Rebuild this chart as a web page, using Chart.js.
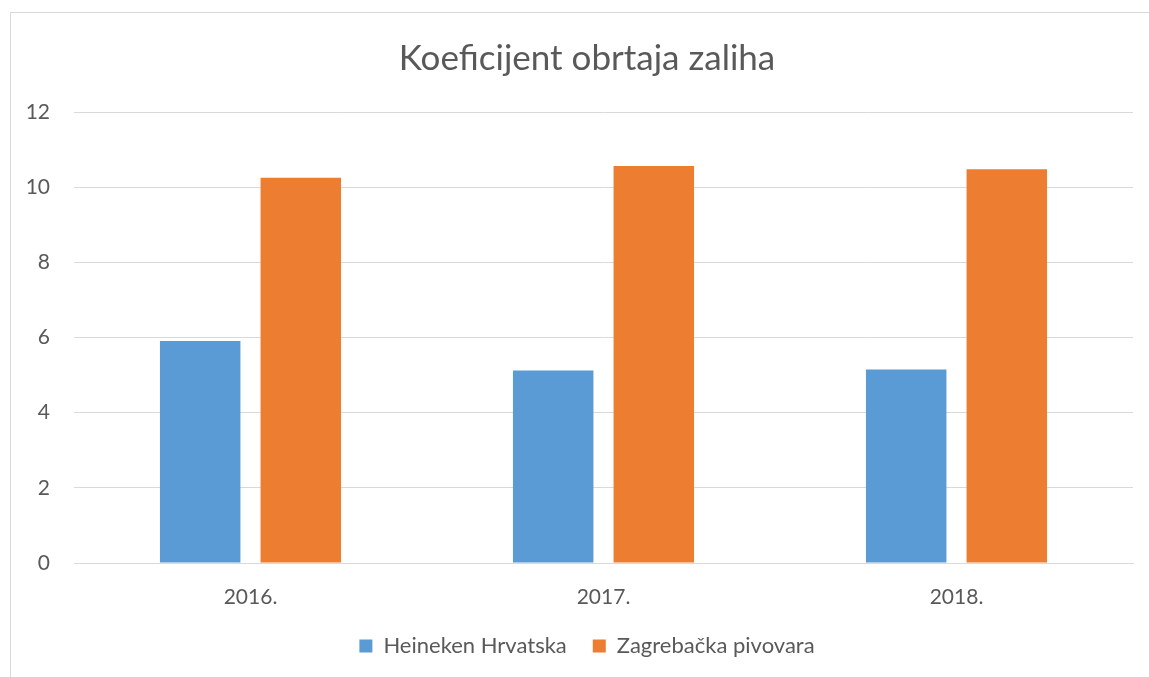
<!DOCTYPE html>
<html>
<head>
<meta charset="utf-8">
<script src="https://cdn.jsdelivr.net/npm/chart.js@4"></script>
<style>
  html, body { margin: 0; padding: 0; background: #fff; }
  #wrap { position: relative; width: 1149px; height: 677px; overflow: hidden; }
  #frame { position: absolute; left: 10px; top: 12px; width: 1200px; height: 700px;
           border-left: 1px solid #d9d9d9; border-top: 1px solid #d9d9d9; box-sizing: border-box; }
  canvas { position: absolute; left: 0; top: 0; }
</style>
</head>
<body>
<div id="wrap">
  <div id="frame"></div>
  <canvas id="c" width="1149" height="677"></canvas>
</div>
<script>
const categories = ["2016.", "2017.", "2018."];
const heineken = [5.91, 5.12, 5.15];
const zagrebacka = [10.25, 10.56, 10.48];
const seriesNames = ["Heineken Hrvatska", "Zagrebačka pivovara"];
const yTicks = [0, 2, 4, 6, 8, 10, 12];

const FONT = "Lato, 'Open Sans', sans-serif";
const TXT = "#595959";

// let the y-axis labels extend into the left layout padding without being clipped
const unclipY = { id: "unclipY", afterLayout(chart) { chart.scales.y.left = 0; } };

new Chart(document.getElementById("c"), {
  type: "bar",
  data: {
    labels: categories,
    datasets: [
      { label: seriesNames[0], data: heineken, backgroundColor: "#5B9BD5",
        categoryPercentage: 0.57, barPercentage: 0.8 },
      { label: seriesNames[1], data: zagrebacka, backgroundColor: "#ED7D31",
        categoryPercentage: 0.57, barPercentage: 0.8 }
    ]
  },
  plugins: [unclipY],
  options: {
    responsive: false,
    animation: false,
    devicePixelRatio: 1,
    layout: { padding: { top: 38, right: 16, left: 41, bottom: 10 } },
    plugins: {
      title: {
        display: true, text: "Koeficijent obrtaja zaliha", color: TXT,
        font: { family: FONT, size: 35, weight: "normal", lineHeight: 1.2 },
        padding: { top: 0, bottom: 32 }
      },
      legend: {
        position: "bottom",
        labels: { color: TXT, font: { family: FONT, size: 22 }, boxWidth: 13, boxHeight: 13, padding: 26 }
      },
      tooltip: { enabled: false }
    },
    scales: {
      x: {
        grid: { display: false },
        border: { display: true, color: "#d9d9d9", width: 1 },
        ticks: { color: TXT, font: { family: FONT, size: 21 }, padding: 14 },
        afterFit: s => { s.height = 46; }
      },
      y: {
        min: 0, max: 12,
        afterBuildTicks: s => { s.ticks = yTicks.map(v => ({ value: v })); },
        grid: { color: "#d9d9d9", lineWidth: 1, drawTicks: false },
        border: { display: false },
        ticks: { color: TXT, font: { family: FONT, size: 21 }, padding: 24 },
        afterFit: s => { s.width = 33; }
      }
    }
  }
});
</script>
</body>
</html>
